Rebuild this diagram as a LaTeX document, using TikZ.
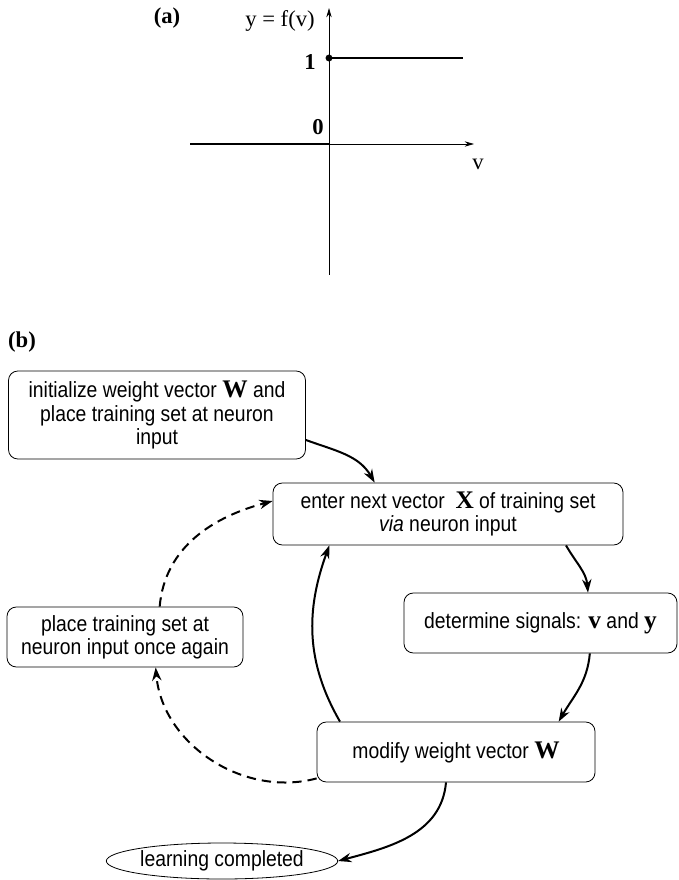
\documentclass[tikz,border=0pt]{standalone}
\usepackage{fontspec}
\setmainfont{Liberation Serif}
\newfontfamily\boxfont{Liberation Sans}[FakeStretch=0.88]
\usetikzlibrary{arrows.meta,shapes.geometric}
\newcommand{\bvec}[1]{{\rmfamily\fontsize{19}{17.3}\selectfont\bfseries #1}}
\tikzset{
	stepbox/.style={draw, rounded corners=7pt, line width=0.6pt, align=center, inner sep=0pt,
		font=\boxfont\fontsize{16.5}{17.3}\selectfont},
	endbox/.style={stepbox, ellipse},
	flow/.style={line width=1.5pt, -{Stealth[length=10pt,width=7pt]}},
	backflow/.style={flow, dash pattern=on 7pt off 4.5pt},
	axis/.style={line width=0.6pt, -{Stealth[length=7pt,width=4pt]}},
	level/.style={line width=2pt},
	lbl/.style={font=\fontsize{17}{17}\selectfont}
}
\begin{document}
\begin{tikzpicture}[x=0.75pt,y=0.75pt]
				\useasboundingbox (0,0) rectangle (678,-880);
				%draw step function (a)
				\coordinate (O) at (329,-144);
				\draw[axis] (190,-144) -- (474,-144);
				\draw[axis] (329,-275) -- (329,-8);
				\draw[level] (190,-144) -- (O);
				\draw[level] (329,-58) -- (463,-58);
				\fill (329,-58) circle (2.6pt);
				\node[lbl, font=\fontsize{17}{17}\selectfont\bfseries] (tagA) at (167,-18) {(a)};
				\node[lbl] (ylab) at (280,-21) {y = f(v)};
				\node[lbl, font=\fontsize{17}{17}\selectfont\bfseries] (one) at (310,-62) {1};
				\node[lbl, font=\fontsize{17}{17}\selectfont\bfseries] (zero) at (318,-127) {0};
				\node[lbl] (vlab) at (478,-164) {v};
				%draw learning loop (b)
				\node[lbl, font=\fontsize{17}{17}\selectfont\bfseries] (tagB) at (22,-342) {(b)};
				\node[stepbox, minimum width=222.75pt, minimum height=66pt] (init) at (157,-415)
					{initialize weight vector \bvec{W} and\\ place training set at neuron\\ input};
				\node[stepbox, minimum width=262.5pt, minimum height=46.5pt] (enter) at (448,-514)
					{enter next vector \ \bvec{X} of training set\\ \textit{via} neuron input};
				\node[stepbox, minimum width=204.75pt, minimum height=45pt] (signals) at (540.5,-623)
					{determine signals: \bvec{v} and \bvec{y}};
				\node[stepbox, minimum width=177pt, minimum height=45pt] (again) at (125,-637)
					{place training set at\\ neuron input once again};
				\node[stepbox, minimum width=208.5pt, minimum height=45pt] (modify) at (456,-752)
					{modify weight vector \bvec{W}};
				\node[endbox, minimum width=150pt, minimum height=27pt] (learned) at (222,-861)
					{learning completed};
				%draw connectors
				\draw[flow] ([yshift=-18.75pt]init.east) to[out=-20, in=120] ([xshift=-55pt]enter.north);
				\draw[flow] ([xshift=88.5pt]enter.south) to[out=-60, in=95] ([xshift=35.6pt]signals.north);
				\draw[flow] ([xshift=37pt]signals.south) to[out=-95, in=60] ([xshift=77pt]modify.north);
				\draw[flow] ([xshift=-87pt]modify.north) to[out=120, in=-110] ([xshift=-89pt]enter.south);
				\draw[backflow] ([yshift=3pt]modify.south west) to[out=195, in=-85] ([xshift=23pt]again.south);
				\draw[backflow] ([xshift=26pt]again.north) to[out=85, in=195] ([yshift=9.75pt]enter.west);
				\draw[flow] ([xshift=-7.5pt]modify.south) to[out=-95, in=15] (learned.east);
\end{tikzpicture}
\end{document}
